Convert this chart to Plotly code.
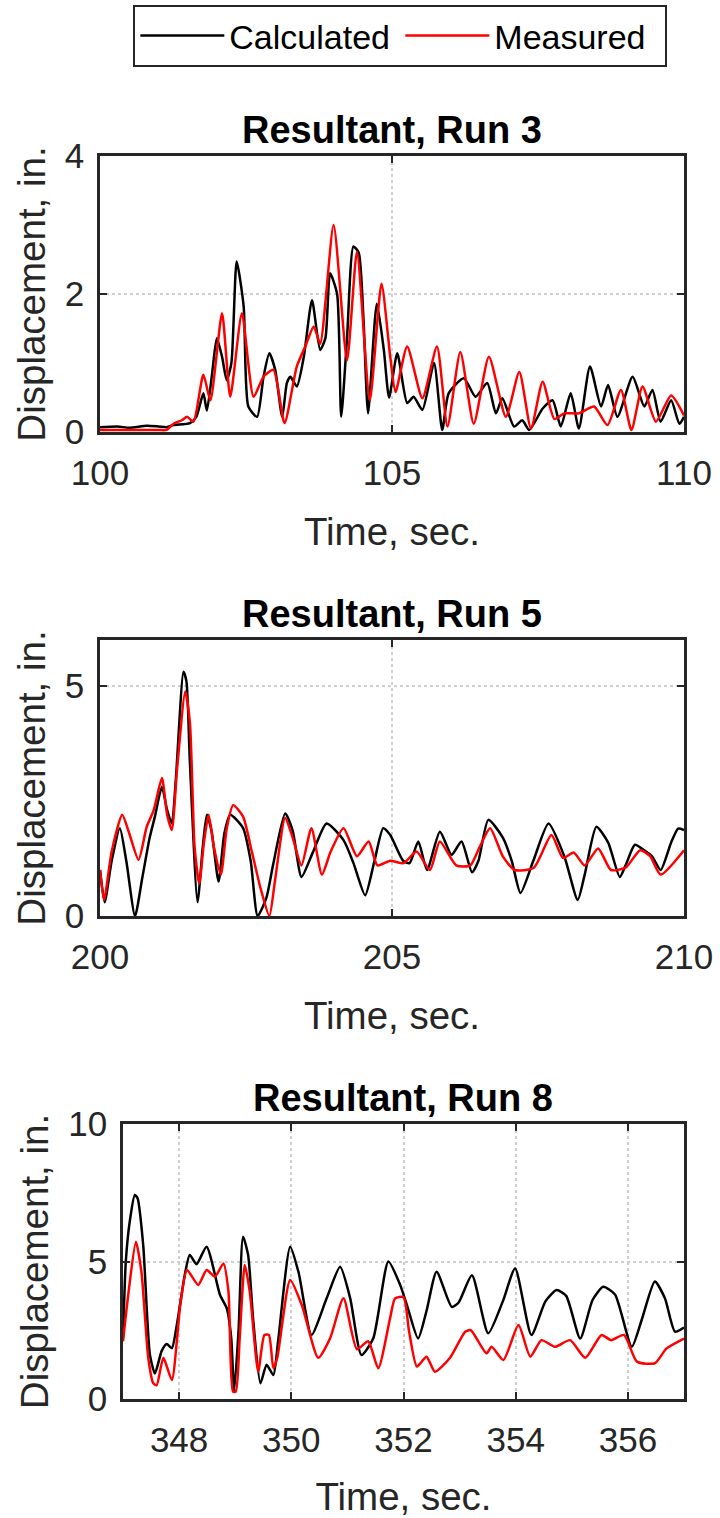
import plotly.graph_objects as go

# ---- Run 3 -----------------------------------------------------------
run3_calc_t = [100.0, 100.3, 100.5, 100.8, 101.0, 101.14, 101.26, 101.54, 101.65, 101.77,
               101.83, 101.92, 102.0, 102.09, 102.17, 102.25, 102.34, 102.46, 102.54, 102.69,
               102.8, 102.9, 103.0, 103.12, 103.2, 103.26, 103.37, 103.49, 103.63, 103.77,
               103.86, 103.94, 104.06, 104.13, 104.23, 104.34, 104.43, 104.51, 104.59, 104.74,
               104.86, 104.95, 105.09, 105.26, 105.37, 105.52, 105.72, 105.86, 105.97, 106.23,
               106.43, 106.63, 106.78, 106.89, 107.09, 107.23, 107.35, 107.58, 107.75, 107.89,
               108.06, 108.2, 108.39, 108.58, 108.7, 108.86, 109.12, 109.32, 109.46, 109.6,
               109.78, 109.92, 110.0]
run3_calc_v = [0.07, 0.08, 0.06, 0.09, 0.08, 0.07, 0.10, 0.13, 0.22, 0.56,
               0.31, 0.85, 1.36, 1.09, 0.75, 1.0, 2.47, 1.82, 0.37, 0.22,
               0.80, 1.14, 0.90, 0.22, 0.71, 0.80, 0.66, 1.09, 1.91, 1.19,
               1.36, 2.30, 2.0, 0.22, 1.36, 2.69, 2.6, 1.67, 0.27, 1.86,
               1.19, 0.50, 1.14, 0.42, 0.51, 0.32, 1.0, 0.03, 0.56, 0.78,
               0.51, 0.71, 0.27, 0.49, 0.08, 0.17, 0.03, 0.34, 0.46, 0.08,
               0.56, 0.05, 0.95, 0.37, 0.68, 0.22, 0.80, 0.37, 0.61, 0.15,
               0.46, 0.12, 0.22]
run3_meas_t = [100.0, 100.5, 101.0, 101.14, 101.26, 101.4, 101.49, 101.6, 101.77, 101.89,
               102.09, 102.23, 102.43, 102.63, 102.8, 102.97, 103.16, 103.37, 103.52, 103.66,
               103.77, 104.0, 104.23, 104.4, 104.62, 104.82, 104.97, 105.06, 105.26, 105.52,
               105.77, 105.95, 106.17, 106.4, 106.66, 106.95, 107.18, 107.38, 107.58, 107.78,
               107.95, 108.2, 108.46, 108.69, 108.92, 109.1, 109.29, 109.52, 109.78, 110.0]
run3_meas_v = [0.03, 0.03, 0.03, 0.03, 0.12, 0.17, 0.22, 0.15, 0.83, 0.46,
               1.72, 0.51, 1.72, 0.51, 0.80, 0.90, 0.13, 0.95, 1.25, 1.53,
               1.28, 3.0, 1.04, 2.61, 0.46, 2.15, 1.09, 0.58, 1.24, 0.49,
               1.24, 0.08, 1.16, 0.12, 1.09, 0.22, 0.87, 0.05, 0.73, 0.19,
               0.27, 0.27, 0.37, 0.10, 0.61, 0.03, 0.66, 0.15, 0.53, 0.24]

# ---- Run 5 -----------------------------------------------------------
run5_calc_t = [200.0, 200.08, 200.2, 200.34, 200.45, 200.6, 200.72, 200.85, 200.94, 201.06,
               201.15, 201.23, 201.3, 201.43, 201.48, 201.54, 201.67, 201.76, 201.83, 201.91,
               202.03, 202.13, 202.23, 202.45, 202.58, 202.7, 202.85, 202.97, 203.17, 203.3,
               203.45, 203.65, 203.88, 204.17, 204.34, 204.54, 204.7, 204.85, 204.97, 205.19,
               205.3, 205.45, 205.6, 205.82, 206.02, 206.19, 206.37, 206.48, 206.65, 206.9,
               207.05, 207.2, 207.42, 207.68, 207.95, 208.18, 208.3, 208.5, 208.7, 208.9,
               209.0, 209.16, 209.32, 209.45, 209.6, 209.78, 209.9, 210.0]
run5_calc_v = [1.0, 0.3, 1.2, 1.91, 1.2, 0.0, 0.8, 1.7, 2.16, 2.81,
               2.3, 2.01, 3.0, 5.31, 5.1, 3.32, 0.3, 1.5, 2.2, 1.85,
               0.75, 1.8, 2.2, 1.91, 1.2, 0.0, 0.4, 1.15, 2.23, 1.85,
               0.85, 1.4, 2.01, 1.65, 1.15, 0.45, 1.2, 1.91, 1.76, 1.2,
               1.15, 1.62, 1.0, 1.83, 1.33, 1.62, 0.95, 1.2, 2.09, 1.7,
               1.2, 0.5, 1.2, 2.01, 1.3, 0.35, 0.9, 1.94, 1.6, 0.85,
               1.1, 1.55, 1.43, 1.3, 1.0, 1.6, 1.9, 1.87]
run5_meas_t = [200.0, 200.07, 200.2, 200.38, 200.5, 200.66, 200.8, 200.92, 201.06, 201.15,
               201.23, 201.32, 201.46, 201.54, 201.62, 201.7, 201.78, 201.86, 201.95, 202.07,
               202.17, 202.28, 202.45, 202.6, 202.75, 202.9, 203.0, 203.17, 203.3, 203.45,
               203.62, 203.8, 203.95, 204.17, 204.4, 204.6, 204.75, 204.97, 205.2, 205.42,
               205.65, 205.82, 206.1, 206.34, 206.5, 206.68, 206.9, 207.1, 207.43, 207.73,
               207.93, 208.11, 208.3, 208.53, 208.75, 209.0, 209.25, 209.42, 209.6, 210.0]
run5_meas_v = [1.0, 0.35, 1.4, 2.2, 1.8, 1.22, 1.94, 2.3, 3.0, 2.2,
               1.87, 3.2, 4.88, 4.19, 1.5, 0.7, 1.6, 2.2, 1.5, 0.9,
               1.9, 2.41, 2.16, 1.4, 0.6, 0.0, 0.8, 2.13, 1.7, 1.1,
               1.91, 0.9, 1.4, 1.91, 1.3, 1.62, 1.1, 1.2, 1.15, 1.4,
               1.0, 1.62, 1.1, 1.1, 1.5, 1.91, 1.29, 1.0, 1.05, 1.76,
               1.26, 1.38, 1.1, 1.47, 1.0, 1.05, 1.43, 1.3, 0.9, 1.43]

# ---- Run 8 -----------------------------------------------------------
run8_calc_t = [347.0, 347.05, 347.12, 347.21, 347.26, 347.36, 347.48, 347.57, 347.69, 347.78,
               347.87, 347.96, 348.1, 348.19, 348.31, 348.49, 348.73, 348.85, 348.93, 348.98,
               349.06, 349.14, 349.23, 349.32, 349.45, 349.56, 349.68, 349.77, 349.98, 350.13,
               350.36, 350.63, 350.87, 351.05, 351.25, 351.46, 351.73, 351.94, 352.06, 352.26,
               352.41, 352.59, 352.86, 352.98, 353.22, 353.51, 353.77, 353.99, 354.28, 354.53,
               354.73, 354.9, 355.15, 355.37, 355.56, 355.77, 356.07, 356.25, 356.48, 356.66,
               356.84, 357.0]
run8_calc_v = [2.2, 5.0, 6.45, 7.42, 7.3, 5.6, 1.6, 0.93, 1.75, 2.0,
               1.85, 2.7, 4.5, 5.24, 4.9, 5.54, 3.78, 3.3, 2.2, 0.27,
               2.5, 5.9, 5.24, 2.9, 0.57, 1.25, 0.87, 2.2, 5.54, 4.6,
               2.33, 3.66, 4.81, 3.66, 1.6, 2.2, 5.0, 4.15, 3.42, 2.2,
               3.2, 4.63, 3.35, 3.5, 4.5, 2.39, 3.55, 4.75, 2.33, 3.55,
               3.96, 3.75, 2.2, 3.6, 4.08, 3.8, 1.9, 2.9, 4.27, 3.66,
               2.45, 2.6]
run8_meas_t = [347.0, 347.1, 347.23, 347.33, 347.45, 347.54, 347.6, 347.72, 347.87, 348.02,
               348.14, 348.34, 348.49, 348.64, 348.79, 348.88, 348.96, 349.01, 349.08, 349.17,
               349.26, 349.41, 349.52, 349.6, 349.68, 349.75, 349.98, 350.19, 350.48, 350.69,
               350.93, 351.17, 351.37, 351.55, 351.76, 351.85, 352.0, 352.1, 352.24, 352.41,
               352.56, 352.83, 353.1, 353.2, 353.48, 353.57, 353.78, 354.05, 354.26, 354.46,
               354.7, 354.97, 355.24, 355.53, 355.7, 355.93, 356.16, 356.48, 356.69, 357.0]
run8_meas_v = [2.1, 3.9, 5.72, 4.6, 1.5, 0.57, 0.5, 1.5, 0.69, 3.4,
               4.69, 4.15, 4.69, 4.45, 4.93, 3.9, 0.27, 0.27, 2.2, 4.87,
               3.9, 1.0, 2.33, 2.33, 1.12, 1.5, 4.33, 3.4, 1.5, 2.2,
               3.66, 1.81, 2.1, 1.12, 2.93, 3.66, 3.7, 2.45, 1.18, 1.54,
               0.99, 1.5, 2.45, 2.5, 1.66, 1.9, 1.42, 2.69, 1.54, 2.14,
               1.9, 2.14, 1.5, 2.33, 2.14, 2.33, 1.36, 1.3, 1.84, 2.2]

titles = ["Resultant, Run 3", "Resultant, Run 5", "Resultant, Run 8"]
x_ranges = [[100, 110], [200, 210], [347, 357]]
x_ticks = [[100, 105, 110], [200, 205, 210], [348, 350, 352, 354, 356]]
y_ranges = [[0, 4], [0, 6], [0, 10]]
y_ticks = [[0, 2, 4], [0, 5], [0, 5, 10]]

W, H = 720, 1518
# plot-area boxes in pixels: (left, right, top, bottom)
boxes = [(100, 684, 156, 432), (100, 684, 640, 916), (123, 684, 1124, 1399)]

FONT = "Liberation Sans, Arial, Helvetica, sans-serif"
AX = "#262626"
CALC_COLOR = "#000000"
MEAS_COLOR = "#ff0000"

series = [
    (run3_calc_t, run3_calc_v, run3_meas_t, run3_meas_v),
    (run5_calc_t, run5_calc_v, run5_meas_t, run5_meas_v),
    (run8_calc_t, run8_calc_v, run8_meas_t, run8_meas_v),
]

fig = go.Figure()
for i, (ct, cv, mt, mv) in enumerate(series):
    n = "" if i == 0 else str(i + 1)
    fig.add_trace(go.Scatter(x=ct, y=cv, mode="lines", name="Calculated",
                             line=dict(color=CALC_COLOR, width=2.5, shape="spline", smoothing=0.6),
                             xaxis="x" + n, yaxis="y" + n, showlegend=(i == 0)))
    fig.add_trace(go.Scatter(x=mt, y=mv, mode="lines", name="Measured",
                             line=dict(color=MEAS_COLOR, width=2.5, shape="spline", smoothing=0.6),
                             xaxis="x" + n, yaxis="y" + n, showlegend=(i == 0)))

layout = dict(
    width=W, height=H,
    margin=dict(l=0, r=0, t=0, b=0),
    paper_bgcolor="white", plot_bgcolor="white",
    font=dict(family=FONT, color=AX),
    showlegend=True,
    legend=dict(orientation="h", x=0.556, xanchor="center", y=1 - 5 / H, yanchor="top",
                bgcolor="white", bordercolor=AX, borderwidth=2,
                font=dict(family=FONT, size=34, color="black"),
                itemwidth=84, entrywidth=166),
    annotations=[],
)

for i in range(3):
    l, r, t, b = boxes[i]
    n = "" if i == 0 else str(i + 1)
    common = dict(showline=True, linecolor=AX, linewidth=2.5, mirror="ticks",
                  ticks="inside", ticklen=7, tickwidth=2, tickcolor=AX,
                  showgrid=True, gridcolor="#cfcfcf", gridwidth=2, griddash="dot",
                  zeroline=False, automargin=False,
                  tickfont=dict(family=FONT, size=35, color=AX))
    layout["xaxis" + n] = dict(common, domain=[l / W, r / W], anchor="y" + n,
                               range=x_ranges[i], tickvals=x_ticks[i],
                               ticklabelstandoff=8,
                               title=dict(text="Time, sec.", standoff=28,
                                          font=dict(family=FONT, size=38.5, color=AX)))
    layout["yaxis" + n] = dict(common, domain=[1 - b / H, 1 - t / H], anchor="x" + n,
                               range=y_ranges[i], tickvals=y_ticks[i],
                               ticklabelstandoff=6,
                               title=dict(text="Displacement, in.", standoff=8,
                                          font=dict(family=FONT, size=38.5, color=AX)))
    layout["annotations"].append(dict(
        text="<b>" + titles[i] + "</b>", xref="x" + n + " domain", yref="y" + n + " domain",
        x=0.5, y=1, xanchor="center", yanchor="bottom", yshift=3, showarrow=False,
        font=dict(family=FONT, size=38, color="black")))

fig.update_layout(**layout)
fig.write_html("out.html")
